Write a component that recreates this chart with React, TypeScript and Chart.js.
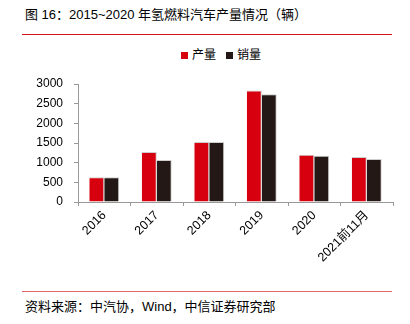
import React, { useEffect, useRef } from "react";
import { Chart, registerables } from "chart.js";

Chart.register(...registerables);

const categories = ["2016", "2017", "2018", "2019", "2020", "2021前11月"];
const production = [629, 1272, 1527, 2833, 1199, 1143];
const sales = [629, 1070, 1527, 2737, 1177, 1096];
const seriesNames = ["产量", "销量"];
const seriesColors = ["#d7000f", "#231815"];
const yTicks = [0, 500, 1000, 1500, 2000, 2500, 3000];

const FONT = '"Liberation Sans", Arial, "Noto Sans CJK SC", sans-serif';

export default function App() {
  const ref = useRef<HTMLCanvasElement | null>(null);

  useEffect(() => {
    if (!ref.current) return;
    const chart = new Chart(ref.current, {
      type: "bar",
      data: {
        labels: categories,
        datasets: [
          {
            label: seriesNames[0],
            data: production,
            backgroundColor: seriesColors[0],
            borderColor: "rgba(200,200,200,0.9)",
            borderWidth: { top: 1, right: 1, left: 0, bottom: 0 },
          },
          {
            label: seriesNames[1],
            data: sales,
            backgroundColor: seriesColors[1],
            borderColor: "rgba(200,200,200,0.9)",
            borderWidth: { top: 1, right: 1, left: 0, bottom: 0 },
          },
        ],
      },
      options: {
        animation: false,
        responsive: false,
        maintainAspectRatio: false,
        layout: { padding: { left: 0, right: 17, top: 44, bottom: 0 } },
        plugins: {
          legend: { display: false },
          tooltip: { enabled: false },
          title: { display: false },
        },
        datasets: {
          bar: { categoryPercentage: 0.57, barPercentage: 1 },
        },
        scales: {
          x: {
            offset: true,
            grid: {
              offset: true,
              drawOnChartArea: false,
              drawTicks: true,
              tickLength: 4,
              color: "#999",
            },
            border: { color: "#999", width: 1 },
            ticks: {
              color: "#000",
              font: { family: FONT, size: 12.5 },
              maxRotation: 45,
              minRotation: 45,
              padding: 2,
              autoSkip: false,
            },
            afterFit: (s: any) => {
              s.height = 88;
            },
          },
          y: {
            min: 0,
            max: 3000,
            afterBuildTicks: (s: any) => {
              s.ticks = yTicks.map((v) => ({ value: v }));
            },
            grid: {
              drawOnChartArea: false,
              drawTicks: true,
              tickLength: 4,
              color: "#999",
            },
            border: { color: "#999", width: 1 },
            ticks: {
              color: "#000",
              font: { family: FONT, size: 12 },
              padding: 11,
              callback: (v: any) => String(v),
            },
            afterFit: (s: any) => {
              s.width = 78;
            },
          },
        },
      },
    });
    return () => chart.destroy();
  }, []);

  return (
    <div
      style={{
        position: "fixed",
        left: 0,
        top: 0,
        width: 410,
        height: 324,
        background: "#fff",
        fontFamily: FONT,
        color: "#000",
      }}
    >
      <div
        style={{
          position: "absolute",
          left: 25,
          top: 6,
          fontSize: 13,
          lineHeight: "17px",
          whiteSpace: "nowrap",
        }}
      >
        图 16：2015~2020 年氢燃料汽车产量情况（辆）
      </div>
      <div
        style={{
          position: "absolute",
          left: 22,
          top: 34,
          width: 370,
          height: 1,
          background: "#d0121b",
        }}
      />
      <div
        style={{
          position: "absolute",
          left: 181,
          top: 46,
          display: "flex",
          alignItems: "center",
          fontSize: 12,
          lineHeight: "18px",
          whiteSpace: "nowrap",
        }}
      >
        <span style={{ display: "inline-block", width: 7, height: 7, background: seriesColors[0], marginRight: 4 }} />
        <span style={{ marginRight: 10 }}>{seriesNames[0]}</span>
        <span style={{ display: "inline-block", width: 7, height: 7, background: seriesColors[1], marginRight: 4 }} />
        <span>{seriesNames[1]}</span>
      </div>
      <canvas
        ref={ref}
        width={410}
        height={250}
        style={{ position: "absolute", left: 0, top: 40, width: 410, height: 250 }}
      />
      <div
        style={{
          position: "absolute",
          left: 22,
          top: 291,
          width: 370,
          height: 1,
          background: "#e06a6a",
        }}
      />
      <div
        style={{
          position: "absolute",
          left: 25,
          top: 298,
          fontSize: 13,
          lineHeight: "17px",
          whiteSpace: "nowrap",
        }}
      >
        资料来源：中汽协，Wind，中信证券研究部
      </div>
    </div>
  );
}
